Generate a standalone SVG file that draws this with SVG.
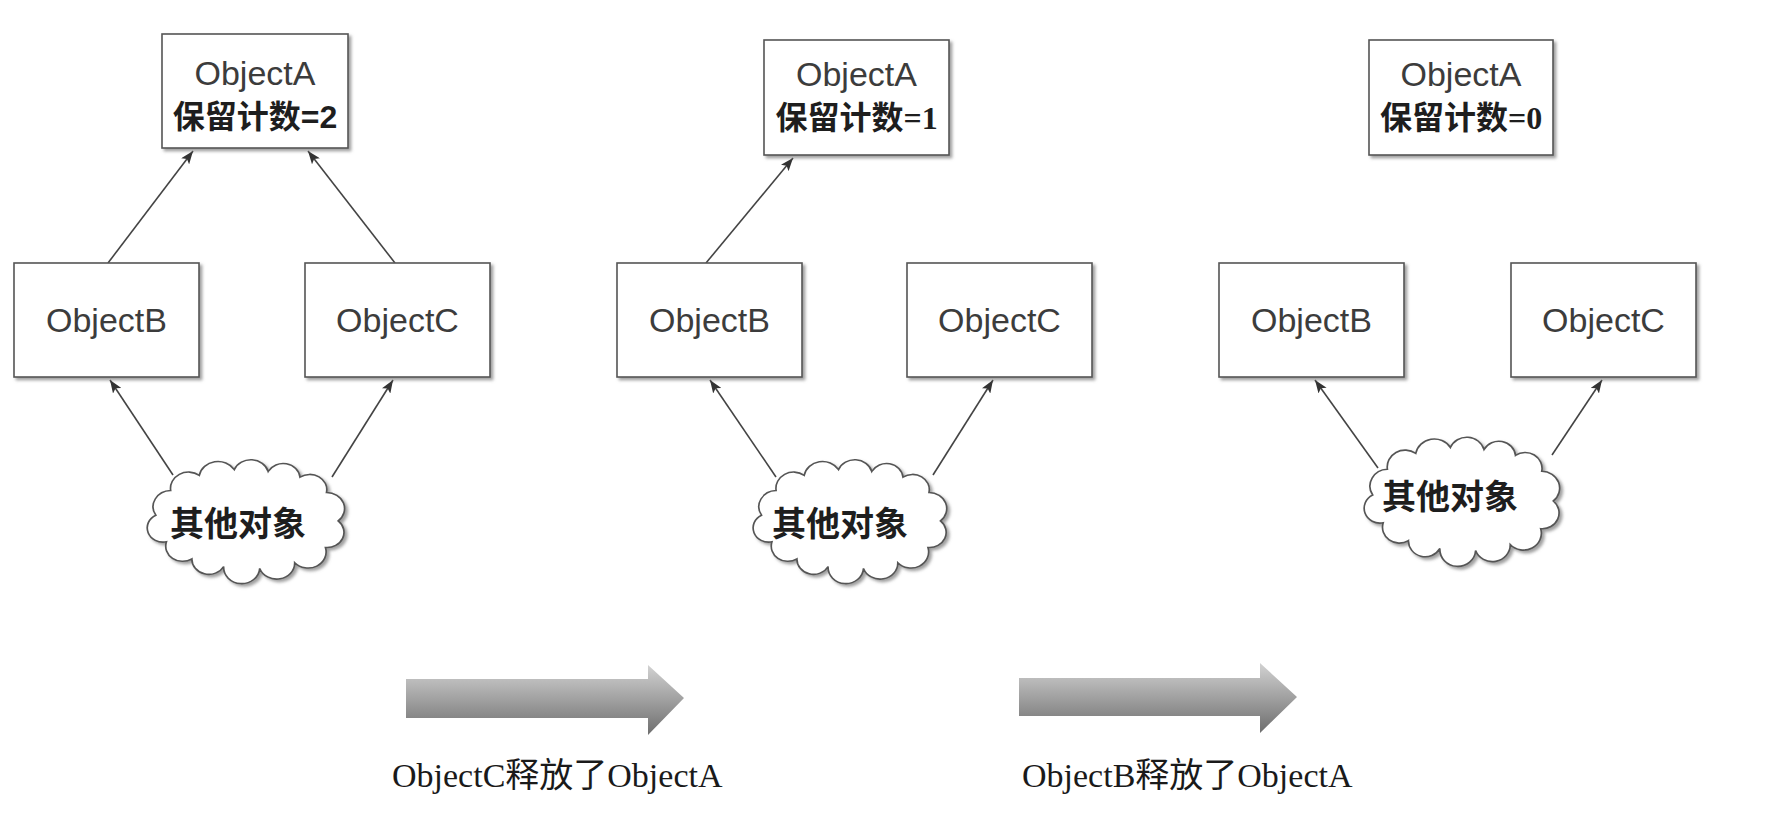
<svg xmlns="http://www.w3.org/2000/svg" width="1790" height="818" viewBox="0 0 1790 818">
<style>
.box{fill:#fff;stroke:#555;stroke-width:1.6;filter:url(#sh)}
.cloud{fill:#fff;stroke:#555;stroke-width:1.6;filter:url(#sh)}
.lbl{font-family:"Liberation Sans","Noto Sans",sans-serif;font-size:34px;fill:#3c3c3c;text-anchor:middle}
.cnt{font-family:"Liberation Sans","Noto Sans CJK SC",sans-serif;font-size:32px;font-weight:bold;fill:#1e1e1e;text-anchor:middle}
.cl{font-family:"Noto Sans CJK SC",sans-serif;font-size:34px;font-weight:bold;fill:#1e1e1e;text-anchor:middle}
.cap{font-family:"Liberation Serif","Noto Sans CJK SC",serif;font-size:34px;fill:#1a1a1a}
.con{stroke:#444;stroke-width:1.6;fill:none;marker-end:url(#ah)}
.big{fill:url(#gr)}
</style>
<defs>
<filter id="sh" x="-10%" y="-10%" width="125%" height="130%">
<feDropShadow dx="2.5" dy="2.5" stdDeviation="1.5" flood-color="#777" flood-opacity="0.7"/>
</filter>
<marker id="ah" markerWidth="14" markerHeight="10" refX="13" refY="5" orient="auto" markerUnits="userSpaceOnUse">
<path d="M0,0 L13,5 L0,10 L3,5 Z" fill="#333"/>
</marker>
<linearGradient id="gr" x1="0" y1="0" x2="0" y2="1">
<stop offset="0" stop-color="#d2d2d2"/>
<stop offset="1" stop-color="#6e6e6e"/>
</linearGradient>
<path id="cloudp" d="M-86,-4 A17,17 0 0 1 -72,-30 A17,17 0 0 1 -45,-46 A18,18 0 0 1 -12,-52 A17,17 0 0 1 20,-50 A16,16 0 0 1 50,-44 A16,16 0 0 1 75,-28 A17,17 0 0 1 86,2 A16,16 0 0 1 74,30 A17,17 0 0 1 45,46 A17,17 0 0 1 12,52 A17,17 0 0 1 -22,50 A16,16 0 0 1 -52,42 A16,16 0 0 1 -76,24 A15,15 0 0 1 -86,-4 Z"/>
</defs>

<g id="connectors">
<line class="con" x1="108" y1="263" x2="193" y2="151"/>
<line class="con" x1="395" y1="263" x2="308" y2="151"/>
<line class="con" x1="173" y1="475" x2="110" y2="380"/>
<line class="con" x1="332" y1="477" x2="393" y2="380"/>
<line class="con" x1="706" y1="263" x2="793" y2="158"/>
<line class="con" x1="776" y1="477" x2="710" y2="380"/>
<line class="con" x1="933" y1="475" x2="993" y2="380"/>
<line class="con" x1="1378" y1="468" x2="1315" y2="380"/>
<line class="con" x1="1552" y1="455" x2="1602" y2="380"/>
</g>

<g id="p1-objA"><rect class="box" x="162" y="34" width="186" height="114"/><text class="lbl" x="255" y="85">ObjectA</text><text class="cnt" x="255" y="128">保留计数=2</text></g>
<g id="p1-objB"><rect class="box" x="14" y="263" width="185" height="114"/><text class="lbl" x="106.5" y="332">ObjectB</text></g>
<g id="p1-objC"><rect class="box" x="305" y="263" width="185" height="114"/><text class="lbl" x="397.5" y="332">ObjectC</text></g>
<g id="p1-cloud"><use href="#cloudp" class="cloud" transform="translate(247,519) scale(1.06,0.95)"/><text class="cl" x="238" y="536">其他对象</text></g>

<g id="p2-objA"><rect class="box" x="764" y="40" width="185" height="115"/><text class="lbl" x="856.5" y="86">ObjectA</text><text class="cnt" x="856.5" y="129"><tspan>保留计数</tspan><tspan font-family="Liberation Serif">=1</tspan></text></g>
<g id="p2-objB"><rect class="box" x="617" y="263" width="185" height="114"/><text class="lbl" x="709.5" y="332">ObjectB</text></g>
<g id="p2-objC"><rect class="box" x="907" y="263" width="185" height="114"/><text class="lbl" x="999.5" y="332">ObjectC</text></g>
<g id="p2-cloud"><use href="#cloudp" class="cloud" transform="translate(851,519) scale(1.04,0.95)"/><text class="cl" x="840" y="536">其他对象</text></g>

<g id="p3-objA"><rect class="box" x="1369" y="40" width="184" height="115"/><text class="lbl" x="1461" y="86">ObjectA</text><text class="cnt" x="1461" y="129"><tspan>保留计数</tspan><tspan font-family="Liberation Serif">=0</tspan></text></g>
<g id="p3-objB"><rect class="box" x="1219" y="263" width="185" height="114"/><text class="lbl" x="1311.5" y="332">ObjectB</text></g>
<g id="p3-objC"><rect class="box" x="1511" y="263" width="185" height="114"/><text class="lbl" x="1603.5" y="332">ObjectC</text></g>
<g id="p3-cloud"><use href="#cloudp" class="cloud" transform="translate(1463,499) scale(1.05,0.99)"/><text class="cl" x="1450" y="509">其他对象</text></g>

<g id="step1">
<path class="big" d="M406,679 L648,679 L648,665 L684,698 L648,735 L648,718 L406,718 Z"/>
<text class="cap" x="392" y="787">ObjectC释放了ObjectA</text>
</g>
<g id="step2">
<path class="big" d="M1019,678 L1260,678 L1260,663 L1297,697 L1260,733 L1260,716 L1019,716 Z"/>
<text class="cap" x="1022" y="787">ObjectB释放了ObjectA</text>
</g>
</svg>
